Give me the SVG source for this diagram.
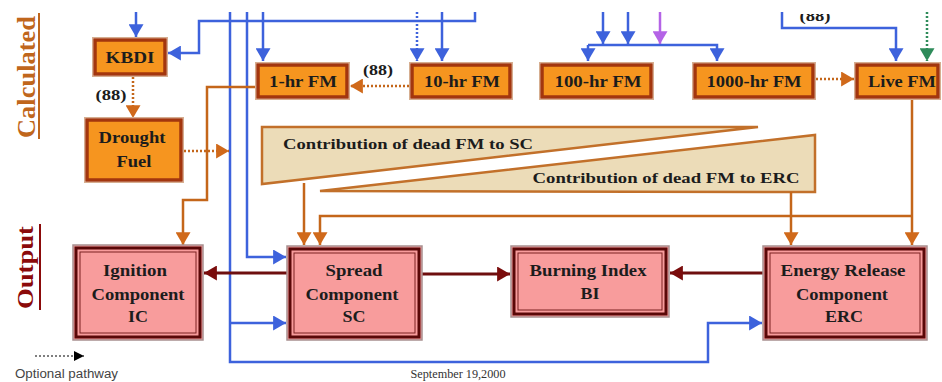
<svg xmlns="http://www.w3.org/2000/svg" width="942" height="382" viewBox="0 0 942 382">
<style>
.ob{fill:#f6951f;stroke:#a3360e;stroke-width:3.5}
.of{fill:none;stroke:#d6ae90;stroke-width:1}
.pk{fill:#f89c9c;stroke:#a89090;stroke-width:1.5}
.pk2{fill:none;stroke:#5a0808;stroke-width:3}
.pk3{fill:none;stroke:#7a2020;stroke-width:1}
.bt{font-family:"Liberation Serif","Times New Roman",serif;font-weight:bold;font-size:16.5px;fill:#1c1c1c;text-anchor:middle}
.tri{fill:#ecdcb8;stroke:#c2702a;stroke-width:2.5}
.bl{fill:none;stroke:#3d62dc;stroke-width:2.5}
.or{fill:none;stroke:#c4661a;stroke-width:2.5}
.dr{fill:none;stroke:#6e0e0e;stroke-width:3}
.dot{stroke-dasharray:2 2}
.lab{font-family:"Liberation Serif","Times New Roman",serif;font-weight:bold;font-size:15px;fill:#1c1c1c;text-anchor:middle}
</style>
<defs>
<marker id="mb" markerUnits="userSpaceOnUse" markerWidth="15" markerHeight="15" viewBox="0 0 12 14" refX="12" refY="7" orient="auto"><path d="M0,0 L12,7 L0,14 z" fill="#3d62dc"/></marker>
<marker id="mo" markerUnits="userSpaceOnUse" markerWidth="15" markerHeight="15" viewBox="0 0 12 14" refX="12" refY="7" orient="auto"><path d="M0,0 L12,7 L0,14 z" fill="#d0691a"/></marker>
<marker id="md" markerUnits="userSpaceOnUse" markerWidth="15" markerHeight="15" viewBox="0 0 12 14" refX="12" refY="7" orient="auto"><path d="M0,0 L12,7 L0,14 z" fill="#7a0c0c"/></marker>
<marker id="mp" markerUnits="userSpaceOnUse" markerWidth="15" markerHeight="15" viewBox="0 0 12 14" refX="12" refY="7" orient="auto"><path d="M0,0 L12,7 L0,14 z" fill="#b463e6"/></marker>
<marker id="mg" markerUnits="userSpaceOnUse" markerWidth="15" markerHeight="15" viewBox="0 0 12 14" refX="12" refY="7" orient="auto"><path d="M0,0 L12,7 L0,14 z" fill="#2e8b5a"/></marker>
<marker id="mk" markerUnits="userSpaceOnUse" markerWidth="10" markerHeight="10" viewBox="0 0 10 10" refX="10" refY="5" orient="auto"><path d="M0,0 L10,5 L0,10 z" fill="#000"/></marker>
<clipPath id="topclip"><rect x="0" y="14" width="942" height="368"/></clipPath>
</defs>
<rect width="942" height="382" fill="#ffffff"/>

<g id="headings">
<text transform="translate(35,138) rotate(-90)" font-family="Liberation Serif,serif" font-weight="bold" font-size="25" fill="#c0661c" textLength="122" lengthAdjust="spacingAndGlyphs">Calculated</text>
<line x1="39" y1="13" x2="39" y2="139" stroke="#c0661c" stroke-width="2"/>
<text transform="translate(33,309) rotate(-90)" font-family="Liberation Serif,serif" font-weight="bold" font-size="24" fill="#8b0a0a" textLength="83" lengthAdjust="spacingAndGlyphs">Output</text>
<line x1="40" y1="224" x2="40" y2="310" stroke="#8b0a0a" stroke-width="2"/>
</g>

<g id="contrib-sc">
<polygon class="tri" points="262,127 758,127 262,184"/>
<text class="lab" x="408" y="149" font-size="16.5" textLength="250" lengthAdjust="spacingAndGlyphs">Contribution of dead FM to SC</text>
</g>
<g id="contrib-erc">
<polygon class="tri" points="320,191 815,135 815,192"/>
<text class="lab" x="666" y="183" font-size="16.5" textLength="267" lengthAdjust="spacingAndGlyphs">Contribution of dead FM to ERC</text>
</g>

<g id="connectors">
<path class="bl" d="M136,12 V37" marker-end="url(#mb)"/>
<path class="bl" d="M475,12 V21 H199 V53 H168" marker-end="url(#mb)"/>
<path class="bl" d="M263,12 V61" marker-end="url(#mb)"/>
<path class="bl" d="M442,12 V61" marker-end="url(#mb)"/>
<path class="bl dot" d="M417,12 V61" marker-end="url(#mb)"/>
<path class="bl" stroke-width="3.5" d="M230,12 V362 H708 V323 H762" marker-end="url(#mb)"/>
<path class="bl" d="M230,323 H286" marker-end="url(#mb)"/>
<path class="bl" d="M247,12 V257 H286" marker-end="url(#mb)"/>
<path class="bl" d="M603,12 V44" marker-end="url(#mb)"/>
<path class="bl" d="M628,12 V44" marker-end="url(#mb)"/>
<path class="bl" d="M588,45 H717 V61" marker-end="url(#mb)"/>
<path class="bl" d="M588,45 V61" marker-end="url(#mb)"/>
<path fill="none" stroke="#b463e6" stroke-width="2.5" d="M660,12 V44" marker-end="url(#mp)"/>
<path class="bl" d="M782,12 V28 H896 V61" marker-end="url(#mb)"/>
<path fill="none" stroke="#2e8b5a" stroke-width="2.5" stroke-dasharray="2 2" d="M927,12 V61" marker-end="url(#mg)"/>
<path class="or dot" d="M133,77 V118" marker-end="url(#mo)"/>
<path class="or dot" d="M184,151 H229" marker-end="url(#mo)"/>
<path class="or dot" d="M409,86 H350" marker-end="url(#mo)"/>
<path class="or dot" d="M816,79 H854" marker-end="url(#mo)"/>
<path class="or" d="M256,87 H207 V200 H183 V245" marker-end="url(#mo)"/>
<path class="or" d="M304,183 V245" marker-end="url(#mo)"/>
<path class="or" d="M912,100 V245" marker-end="url(#mo)"/>
<path class="or" d="M912,216 H320 V245" marker-end="url(#mo)"/>
<path class="or" d="M791,192 V245" marker-end="url(#mo)"/>
<path class="dr" d="M287,273 H204" marker-end="url(#md)"/>
<path class="dr" d="M422,274 H510" marker-end="url(#md)"/>
<path class="dr" d="M763,273 H670" marker-end="url(#md)"/>
<text class="lab" x="111" y="100" textLength="31" lengthAdjust="spacingAndGlyphs">(88)</text>
<text class="lab" x="378" y="75" textLength="30" lengthAdjust="spacingAndGlyphs">(88)</text>
<text class="lab" x="815" y="21" textLength="31" lengthAdjust="spacingAndGlyphs" clip-path="url(#topclip)">(88)</text>
</g>

<g id="kbdi">
<rect class="of" x="92.5" y="37.5" width="75" height="39"/>
<rect class="ob" x="95" y="40" width="70" height="34"/>
<text class="bt" x="130" y="63" textLength="49" lengthAdjust="spacingAndGlyphs">KBDI</text>
</g>
<g id="fm1">
<rect class="of" x="255.5" y="62.5" width="94" height="37"/>
<rect class="ob" x="258" y="65" width="89" height="32"/>
<text class="bt" x="303" y="87" textLength="68" lengthAdjust="spacingAndGlyphs">1-hr FM</text>
</g>
<g id="fm10">
<rect class="of" x="409.5" y="62.5" width="103" height="37"/>
<rect class="ob" x="412" y="65" width="98" height="32"/>
<text class="bt" x="462" y="87" textLength="76" lengthAdjust="spacingAndGlyphs">10-hr FM</text>
</g>
<g id="fm100">
<rect class="of" x="539.5" y="62.5" width="114" height="37"/>
<rect class="ob" x="542" y="65" width="109" height="32"/>
<text class="bt" x="598" y="87" textLength="87" lengthAdjust="spacingAndGlyphs">100-hr FM</text>
</g>
<g id="fm1000">
<rect class="of" x="692.5" y="62.5" width="123" height="37"/>
<rect class="ob" x="695" y="65" width="118" height="32"/>
<text class="bt" x="754" y="87" textLength="95" lengthAdjust="spacingAndGlyphs">1000-hr FM</text>
</g>
<g id="livefm">
<rect class="of" x="854.5" y="62.5" width="86" height="37"/>
<rect class="ob" x="857" y="65" width="81" height="32"/>
<text class="bt" x="902" y="87" textLength="68" lengthAdjust="spacingAndGlyphs">Live FM</text>
</g>
<g id="drought">
<rect class="of" x="84.5" y="117.5" width="99" height="65"/>
<rect class="ob" x="87" y="120" width="94" height="60"/>
<text class="bt" x="132" y="143" textLength="67" lengthAdjust="spacingAndGlyphs">Drought</text>
<text class="bt" x="134" y="167" textLength="35" lengthAdjust="spacingAndGlyphs">Fuel</text>
</g>

<g id="ic">
<rect class="pk" x="73" y="245" width="130" height="95"/>
<rect class="pk2" x="76" y="248" width="124" height="89"/>
<rect class="pk3" x="80" y="252" width="116" height="81"/>
<text class="bt" x="135" y="276" textLength="64" lengthAdjust="spacingAndGlyphs">Ignition</text>
<text class="bt" x="138" y="300" textLength="93" lengthAdjust="spacingAndGlyphs">Component</text>
<text class="bt" x="138" y="322" textLength="20" lengthAdjust="spacingAndGlyphs">IC</text>
</g>
<g id="sc">
<rect class="pk" x="287" y="246" width="135" height="94"/>
<rect class="pk2" x="290" y="249" width="129" height="88"/>
<rect class="pk3" x="294" y="253" width="121" height="80"/>
<text class="bt" x="354" y="276" textLength="57" lengthAdjust="spacingAndGlyphs">Spread</text>
<text class="bt" x="352" y="300" textLength="93" lengthAdjust="spacingAndGlyphs">Component</text>
<text class="bt" x="354" y="322" textLength="23" lengthAdjust="spacingAndGlyphs">SC</text>
</g>
<g id="bi">
<rect class="pk" x="511" y="246" width="158" height="71"/>
<rect class="pk2" x="514" y="249" width="152" height="65"/>
<rect class="pk3" x="518" y="253" width="144" height="57"/>
<text class="bt" x="588" y="276" textLength="117" lengthAdjust="spacingAndGlyphs">Burning Index</text>
<text class="bt" x="590" y="299" textLength="19" lengthAdjust="spacingAndGlyphs">BI</text>
</g>
<g id="erc">
<rect class="pk" x="763" y="246" width="164" height="94"/>
<rect class="pk2" x="766" y="249" width="158" height="88"/>
<rect class="pk3" x="770" y="253" width="150" height="80"/>
<text class="bt" x="843" y="276" textLength="125" lengthAdjust="spacingAndGlyphs">Energy Release</text>
<text class="bt" x="842" y="300" textLength="92" lengthAdjust="spacingAndGlyphs">Component</text>
<text class="bt" x="844" y="322" textLength="38" lengthAdjust="spacingAndGlyphs">ERC</text>
</g>

<g id="legend">
<path d="M35,356 H84" stroke="#000" stroke-width="1.2" stroke-dasharray="2 2" fill="none" marker-end="url(#mk)"/>
<text x="15" y="378" font-family="Liberation Sans,Arial,sans-serif" font-size="12.5" fill="#444" textLength="103" lengthAdjust="spacingAndGlyphs">Optional pathway</text>
<text x="458" y="378" font-family="Liberation Serif,serif" font-size="12" fill="#333" text-anchor="middle" textLength="95" lengthAdjust="spacingAndGlyphs">September 19,2000</text>
</g>
</svg>
